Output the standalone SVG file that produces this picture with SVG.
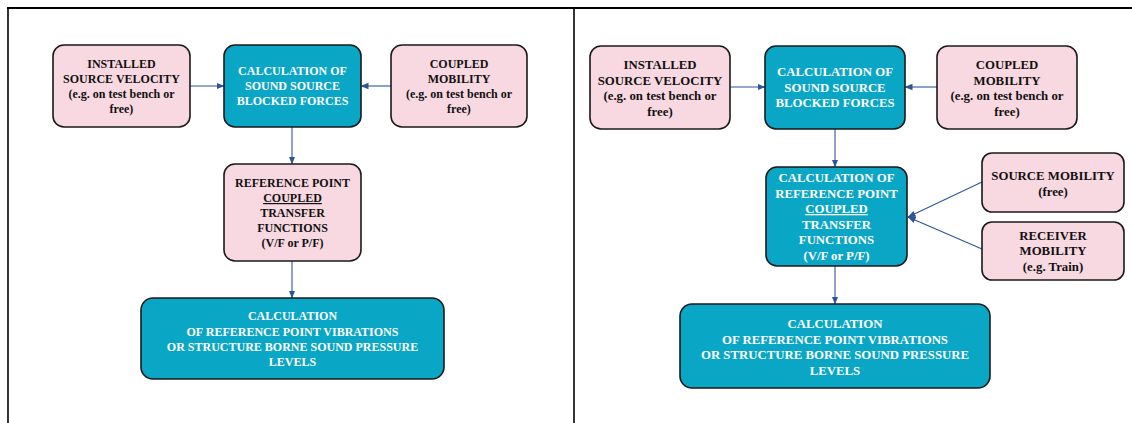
<svg xmlns="http://www.w3.org/2000/svg" width="1132" height="423" viewBox="0 0 1132 423">
<style>
.frame{stroke:#000;fill:none}
.pink{fill:#F8D8E1;stroke:#1a1a1a;stroke-width:1.6}
.teal{fill:#0AA6C5;stroke:#1a1a1a;stroke-width:1.6}
text{font-family:"Liberation Serif","Times New Roman",serif;font-weight:bold;font-size:12px;text-anchor:middle}
.r text{font-size:12.8px}
.dk{fill:#111}
.wt{fill:#fff}
.con line{stroke:#2E5597;stroke-width:1.1;marker-end:url(#ah)}
</style>
<defs>
<marker id="ah" markerUnits="userSpaceOnUse" markerWidth="8" markerHeight="8" viewBox="0 0 8 8" refX="7.5" refY="4" orient="auto">
<path d="M0,0.8 L8,4 L0,7.2 Z" fill="#2E5597"/>
</marker>
</defs>
<rect width="1132" height="423" fill="#fff"/>
<line class="frame" x1="7" y1="8" x2="1132" y2="8" stroke-width="2"/>
<line class="frame" x1="8" y1="8" x2="8" y2="423" stroke-width="1.6"/>
<line class="frame" x1="574" y1="8" x2="574" y2="423" stroke-width="1.6"/>

<g class="con">
<line x1="190" y1="86" x2="224" y2="86"/>
<line x1="391" y1="86" x2="361" y2="86"/>
<line x1="292" y1="127" x2="292" y2="164"/>
<line x1="292" y1="261" x2="292" y2="298"/>
<line x1="730" y1="87" x2="765" y2="87"/>
<line x1="937" y1="87" x2="905" y2="87"/>
<line x1="835" y1="129" x2="835" y2="167"/>
<line x1="835" y1="266" x2="835" y2="304"/>
<line x1="982" y1="182" x2="908" y2="217"/>
<line x1="982" y1="249" x2="908" y2="217"/>
</g>

<g id="l-installed">
<rect class="pink" x="53" y="45" width="137" height="82" rx="11"/>
<text class="dk" x="121.5" y="68">INSTALLED</text>
<text class="dk" x="121.5" y="83">SOURCE VELOCITY</text>
<text class="dk" x="121.5" y="98">(e.g. on test bench or</text>
<text class="dk" x="121.5" y="113">free)</text>
</g>
<g id="l-calc">
<rect class="teal" x="224" y="45" width="137" height="82" rx="11"/>
<text class="wt" x="292.5" y="75">CALCULATION OF</text>
<text class="wt" x="292.5" y="90">SOUND SOURCE</text>
<text class="wt" x="292.5" y="105">BLOCKED FORCES</text>
</g>
<g id="l-coupled">
<rect class="pink" x="391" y="45" width="136" height="82" rx="11"/>
<text class="dk" x="459" y="68">COUPLED</text>
<text class="dk" x="459" y="83">MOBILITY</text>
<text class="dk" x="459" y="98">(e.g. on test bench or</text>
<text class="dk" x="459" y="113">free)</text>
</g>
<g id="l-ref">
<rect class="pink" x="224" y="164" width="137" height="97" rx="11"/>
<text class="dk" x="292.5" y="187">REFERENCE POINT</text>
<text class="dk" x="292.5" y="202" text-decoration="underline">COUPLED</text>
<text class="dk" x="292.5" y="217">TRANSFER</text>
<text class="dk" x="292.5" y="232">FUNCTIONS</text>
<text class="dk" x="292.5" y="247">(V/F or P/F)</text>
</g>
<g id="l-result">
<rect class="teal" x="141" y="298" width="303" height="81" rx="12"/>
<text class="wt" x="292.5" y="320">CALCULATION</text>
<text class="wt" x="292.5" y="336">OF REFERENCE POINT VIBRATIONS</text>
<text class="wt" x="292.5" y="351">OR STRUCTURE BORNE SOUND PRESSURE</text>
<text class="wt" x="292.5" y="366">LEVELS</text>
</g>

<g class="r">
<g id="r-installed">
<rect class="pink" x="590" y="46" width="140" height="83" rx="11"/>
<text class="dk" x="660" y="69">INSTALLED</text>
<text class="dk" x="660" y="84.5">SOURCE VELOCITY</text>
<text class="dk" x="660" y="100">(e.g. on test bench or</text>
<text class="dk" x="660" y="115.5">free)</text>
</g>
<g id="r-calc">
<rect class="teal" x="765" y="46" width="140" height="83" rx="11"/>
<text class="wt" x="835" y="76">CALCULATION OF</text>
<text class="wt" x="835" y="91.5">SOUND SOURCE</text>
<text class="wt" x="835" y="107">BLOCKED FORCES</text>
</g>
<g id="r-coupled">
<rect class="pink" x="937" y="46" width="140" height="83" rx="11"/>
<text class="dk" x="1007" y="69">COUPLED</text>
<text class="dk" x="1007" y="84.5">MOBILITY</text>
<text class="dk" x="1007" y="100">(e.g. on test bench or</text>
<text class="dk" x="1007" y="115.5">free)</text>
</g>
<g id="r-ref">
<rect class="teal" x="766" y="167" width="141" height="99" rx="11"/>
<text class="wt" x="836.5" y="182">CALCULATION OF</text>
<text class="wt" x="836.5" y="197.5">REFERENCE POINT</text>
<text class="wt" x="836.5" y="213" text-decoration="underline">COUPLED</text>
<text class="wt" x="836.5" y="228.5">TRANSFER</text>
<text class="wt" x="836.5" y="244">FUNCTIONS</text>
<text class="wt" x="836.5" y="259.5">(V/F or P/F)</text>
</g>
<g id="r-source-mobility">
<rect class="pink" x="982" y="153" width="142" height="59" rx="10"/>
<text class="dk" x="1053" y="179.5">SOURCE MOBILITY</text>
<text class="dk" x="1053" y="195.5">(free)</text>
</g>
<g id="r-receiver-mobility">
<rect class="pink" x="982" y="222" width="142" height="58" rx="10"/>
<text class="dk" x="1053" y="239.5">RECEIVER</text>
<text class="dk" x="1053" y="255">MOBILITY</text>
<text class="dk" x="1053" y="271">(e.g. Train)</text>
</g>
<g id="r-result">
<rect class="teal" x="680" y="304" width="310" height="84" rx="12"/>
<text class="wt" x="835" y="327.5">CALCULATION</text>
<text class="wt" x="835" y="343.5">OF REFERENCE POINT VIBRATIONS</text>
<text class="wt" x="835" y="359">OR STRUCTURE BORNE SOUND PRESSURE</text>
<text class="wt" x="835" y="374.5">LEVELS</text>
</g>
</g>
</svg>
